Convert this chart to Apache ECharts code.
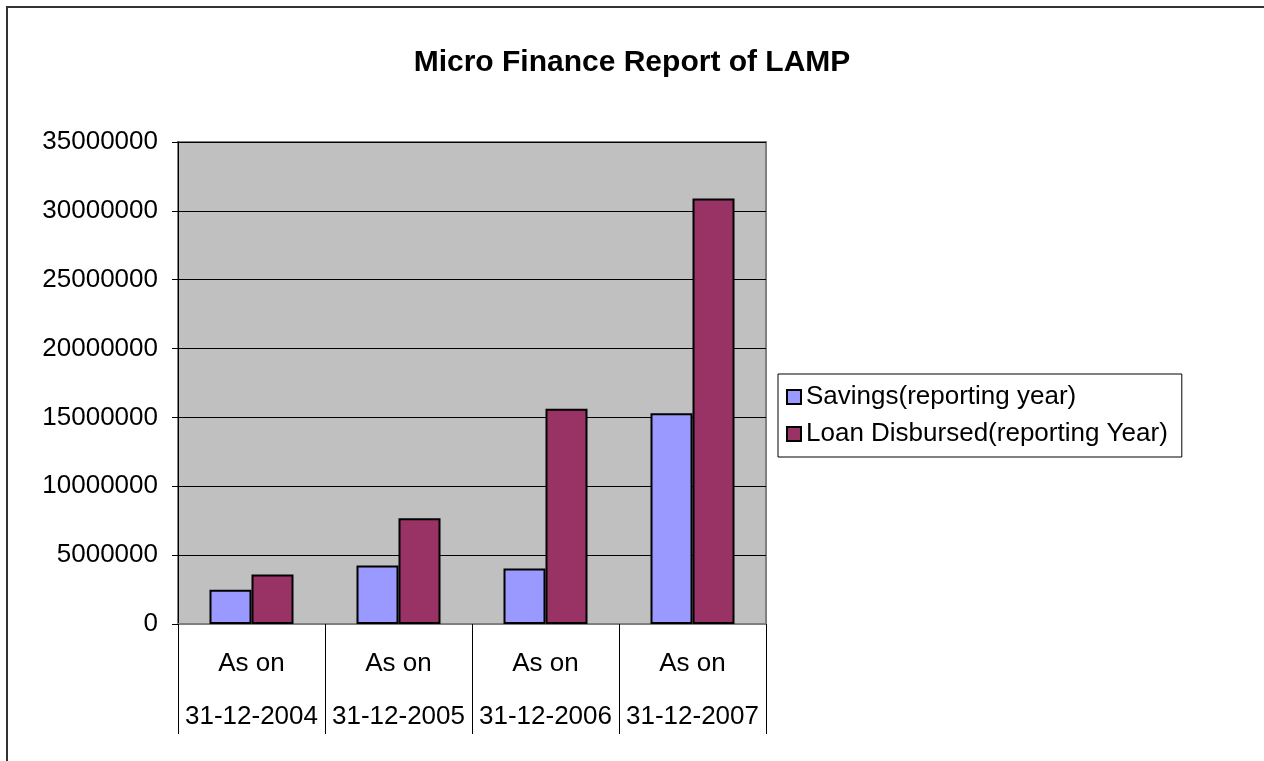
<!DOCTYPE html>
<html>
<head>
    <meta charset="utf-8"/>
    <title>Micro Finance Report of LAMP</title>
    <script src="https://cdn.jsdelivr.net/npm/echarts@6/dist/echarts.min.js"></script>
    <style>
        html, body { margin: 0; padding: 0; background: #fff; }
        #main { width: 1264px; height: 761px; }
    </style>
</head>
<body>
<div id="main"></div>
<script type="text/javascript">
    // data
    var categories = ['As on\n31-12-2004', 'As on\n31-12-2005', 'As on\n31-12-2006', 'As on\n31-12-2007'];
    var savings = [2490000, 4250000, 4030000, 15310000];
    var loans = [3600000, 7670000, 15630000, 30900000];
    var seriesNames = ['Savings(reporting year)', 'Loan Disbursed(reporting Year)'];

    var font = 'Liberation Sans, Arial, sans-serif';
    var myChart = echarts.init(document.getElementById('main'));

    var option = {
        animation: false,
        textStyle: { fontFamily: font, color: '#000' },
        title: {
            text: 'Micro Finance Report of LAMP',
            left: 'center',
            top: 43,
            textStyle: { fontFamily: font, fontSize: 30, fontWeight: 'bold', color: '#000' }
        },
        graphic: [{
            // outer chart frame
            type: 'rect',
            shape: { x: 7, y: 7, width: 1300, height: 800 },
            style: { fill: 'none', stroke: '#333', lineWidth: 2 },
            silent: true
        }],
        legend: {
            orient: 'vertical',
            left: 778,
            top: 374,
            padding: [10, 14, 10, 8],
            itemWidth: 14,
            itemHeight: 14,
            itemGap: 11,
            icon: 'rect',
            borderColor: '#000',
            borderWidth: 1,
            backgroundColor: '#fff',
            textStyle: { fontFamily: font, fontSize: 26, color: '#000' },
            data: seriesNames
        },
        grid: {
            left: 178,
            top: 142,
            width: 588,
            height: 482,
            show: true,
            backgroundColor: '#C0C0C0',
            borderColor: '#808080',
            borderWidth: 2
        },
        xAxis: {
            type: 'category',
            data: categories,
            axisLine: { show: true, lineStyle: { color: '#808080', width: 2 } },
            axisTick: { show: true, interval: 0, length: 110, lineStyle: { color: '#000', width: 1 } },
            axisLabel: {
                interval: 0,
                margin: 13,
                fontFamily: font,
                fontSize: 26,
                lineHeight: 53,
                color: '#000'
            }
        },
        yAxis: {
            type: 'value',
            min: 0,
            max: 35000000,
            interval: 5000000,
            axisLine: { show: true, lineStyle: { color: '#000', width: 1 } },
            axisTick: { show: true, length: 6, lineStyle: { color: '#000' } },
            axisLabel: {
                margin: 20,
                fontFamily: font,
                fontSize: 26,
                color: '#000',
                formatter: function (v) { return String(v); }
            },
            splitLine: { show: true, lineStyle: { color: '#000', width: 1 } }
        },
        series: [
            {
                name: seriesNames[0],
                type: 'bar',
                barWidth: 42,
                barGap: '0%',
                itemStyle: { color: '#9999FF', borderColor: '#000', borderWidth: 2 },
                data: savings
            },
            {
                name: seriesNames[1],
                type: 'bar',
                barWidth: 42,
                barGap: '0%',
                itemStyle: { color: '#993366', borderColor: '#000', borderWidth: 2 },
                data: loans
            }
        ]
    };

    myChart.setOption(option);
</script>
</body>
</html>
